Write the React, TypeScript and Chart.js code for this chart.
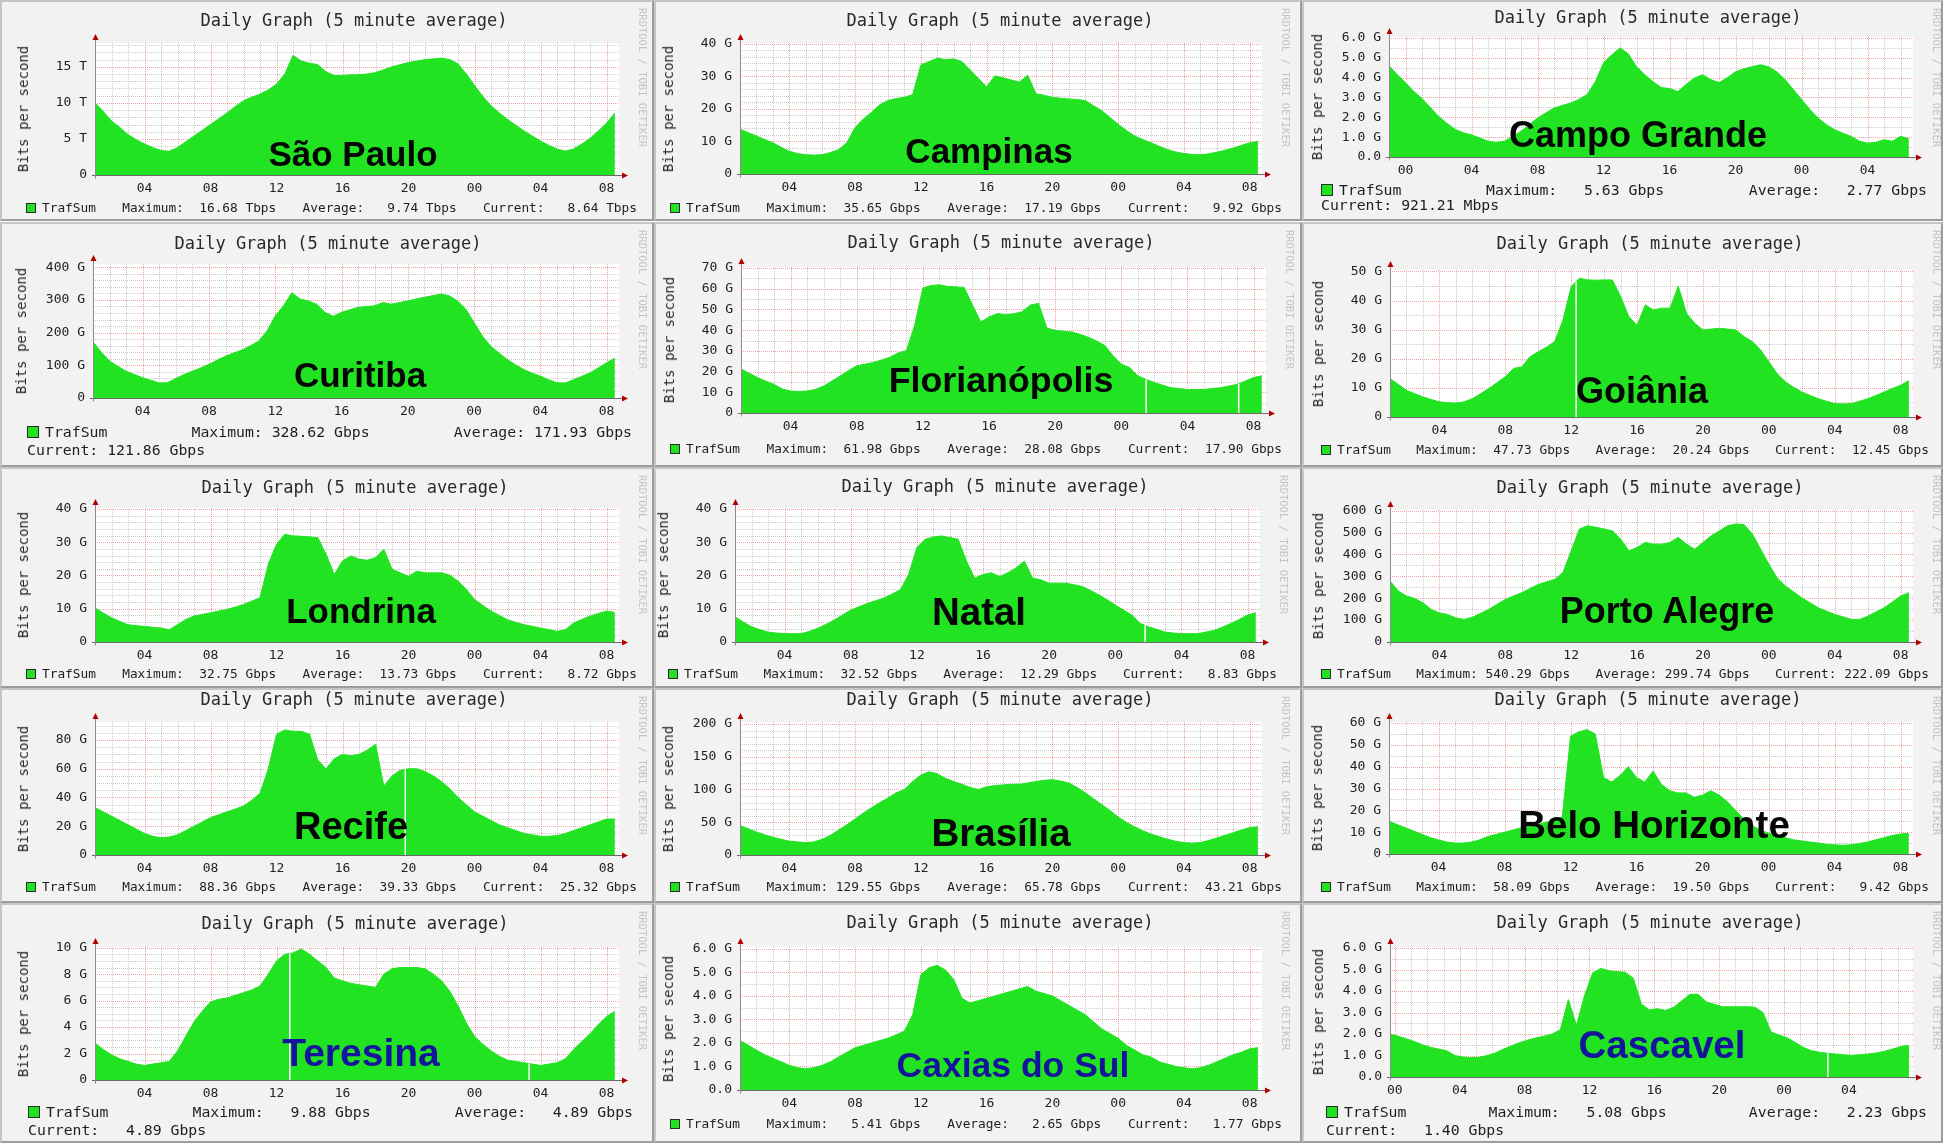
import React, { useEffect, useRef } from 'react';
import { Chart, registerables } from 'chart.js';

Chart.register(...registerables);

// ---------------- DATA ----------------
const cityNames = ['São Paulo', 'Campinas', 'Campo Grande', 'Curitiba', 'Florianópolis', 'Goiânia', 'Londrina', 'Natal', 'Porto Alegre', 'Recife', 'Brasília', 'Belo Horizonte', 'Teresina', 'Caxias do Sul', 'Cascavel'];

// first sample hour (hours of day 1; 24+ = next day) and sampling step (hours)
const startHours = [1, 1, -1, 1, 1, 1, 1, 1, 1, 1, 1, 1, 1, 1, -0.3];
const stepHours = 0.5;

const saoPauloValues = [10.0, 8.8, 7.5, 6.6, 5.6, 4.9, 4.3, 3.8,
  3.4, 3.3, 3.8, 4.6, 5.4, 6.2, 7.0, 7.8,
  8.6, 9.5, 10.3, 10.8, 11.2, 11.8, 12.6, 14.0,
  16.6, 15.8, 15.5, 15.3, 14.3, 13.8, 13.8, 13.9,
  13.9, 14.0, 14.2, 14.6, 15.0, 15.3, 15.6, 15.8,
  16.0, 16.1, 16.2, 16.0, 15.4, 14.0, 12.4, 10.9,
  9.6, 8.6, 7.7, 6.9, 6.1, 5.4, 4.7, 4.1,
  3.6, 3.3, 3.6, 4.3, 5.1, 6.1, 7.2, 8.6];
const campinasValues = [13.8, 12.7, 11.7, 10.6, 9.6, 8.2, 7.0, 6.3,
  5.9, 5.8, 5.9, 6.6, 7.5, 9.6, 14.3, 16.9,
  19.0, 21.3, 22.6, 23.2, 23.6, 24.4, 33.5, 34.6,
  35.6, 35.2, 35.4, 34.6, 32.0, 29.4, 26.8, 30.2,
  29.6, 28.9, 28.3, 30.4, 24.7, 24.2, 23.6, 23.3,
  23.1, 22.9, 22.6, 21.0, 19.5, 17.4, 15.3, 13.4,
  11.7, 10.6, 9.6, 8.5, 7.5, 6.8, 6.3, 6.0,
  5.9, 6.2, 6.7, 7.3, 8.0, 8.8, 9.6, 10.0];
const campoGrandeValues = [4.6, 4.15, 3.75, 3.3, 2.95, 2.5, 2.05, 1.7,
  1.4, 1.22, 1.12, 0.96, 0.8, 0.74, 0.8, 1.04,
  1.3, 1.63, 1.97, 2.22, 2.47, 2.6, 2.72, 2.9,
  3.15, 3.8, 4.75, 5.15, 5.5, 5.2, 4.55, 4.15,
  3.8, 3.5, 3.45, 3.3, 3.65, 3.98, 4.15, 3.9,
  3.75, 4.0, 4.3, 4.45, 4.55, 4.65, 4.55, 4.3,
  3.9, 3.4, 2.9, 2.4, 1.97, 1.63, 1.38, 1.2,
  1.04, 0.8, 0.7, 0.74, 0.87, 0.8, 1.04, 0.92];
const curitibaValues = [172, 140, 113, 97, 82, 72, 62, 54,
  46, 47, 60, 72, 82, 92, 103, 116,
  128, 138, 147, 160, 174, 205, 251, 282,
  322, 303, 297, 287, 262, 250, 262, 270,
  277, 280, 282, 292, 287, 292, 297, 303,
  308, 313, 318, 313, 297, 272, 231, 190,
  159, 138, 118, 102, 87, 76, 67, 56,
  47, 46, 56, 66, 77, 92, 108, 122];
const florianopolisValues = [21.2, 19.2, 17.1, 15.4, 13.8, 11.6, 10.6, 10.4,
  10.6, 11.4, 13.0, 15.4, 17.9, 20.5, 22.8, 23.6,
  24.4, 25.6, 26.9, 29.0, 30.1, 42.3, 60.3, 61.6,
  61.9, 61.1, 60.9, 60.6, 52.1, 43.9, 46.4, 48.0,
  47.6, 47.9, 48.9, 52.1, 52.9, 41.0, 39.9, 39.5,
  39.1, 38.0, 36.6, 34.8, 32.6, 27.7, 23.6, 22.0,
  17.9, 16.2, 14.7, 13.4, 12.2, 11.8, 11.4, 11.3,
  11.4, 11.8, 12.2, 13.0, 13.8, 15.4, 17.1, 18.0];
const goianiaValues = [13.2, 11.2, 9.2, 8.0, 6.9, 6.0, 5.2, 4.9,
  4.8, 5.2, 6.3, 8.0, 9.8, 11.8, 13.8, 16.7,
  17.2, 20.7, 22.4, 24.0, 25.9, 33.3, 44.8, 47.7,
  47.1, 47.0, 47.1, 47.1, 41.4, 34.5, 31.5, 38.5,
  36.8, 37.4, 37.4, 45.0, 35.6, 32.2, 29.9, 30.2,
  30.5, 30.2, 29.9, 27.6, 25.9, 23.0, 19.0, 14.9,
  12.1, 10.2, 8.6, 7.4, 6.3, 5.4, 4.6, 4.5,
  4.6, 5.4, 6.3, 7.4, 8.6, 9.8, 10.9, 12.5];
const londrinaValues = [10.3, 8.7, 7.3, 6.2, 5.2, 4.9, 4.7, 4.4,
  4.2, 3.7, 5.2, 6.8, 7.8, 8.3, 8.8, 9.3,
  9.8, 10.5, 11.3, 12.3, 13.3, 23.4, 29.4, 32.4,
  31.9, 31.8, 31.6, 31.4, 26.4, 20.3, 24.4, 25.9,
  24.9, 24.6, 25.4, 27.9, 21.9, 20.8, 19.8, 21.3,
  20.8, 20.8, 20.8, 20.1, 18.3, 15.8, 12.8, 11.0,
  9.3, 8.0, 6.7, 5.9, 5.2, 4.7, 4.2, 3.7,
  3.2, 3.7, 5.7, 6.8, 7.8, 8.6, 9.3, 8.9];
const natalValues = [7.6, 6.0, 4.6, 3.7, 3.0, 2.7, 2.5, 2.5,
  2.5, 3.2, 4.1, 5.3, 6.6, 8.1, 9.6, 10.6,
  11.6, 12.4, 13.2, 14.4, 15.7, 20.3, 28.4, 30.9,
  31.6, 31.9, 31.4, 30.9, 24.3, 19.2, 20.3, 20.8,
  19.7, 20.8, 22.3, 24.3, 19.2, 18.7, 17.7, 17.7,
  17.7, 17.2, 16.7, 15.5, 14.2, 12.7, 11.1, 9.6,
  8.1, 5.6, 4.6, 3.8, 3.0, 2.7, 2.5, 2.5,
  2.5, 3.0, 3.5, 4.5, 5.6, 6.8, 8.1, 8.8];
const portoAlegreValues = [279, 233, 210, 199, 179, 149, 133, 126,
  110, 103, 113, 131, 149, 172, 194, 210,
  225, 244, 263, 275, 286, 317, 417, 516,
  531, 524, 516, 508, 470, 417, 432, 455,
  447, 447, 455, 478, 447, 424, 455, 485,
  508, 531, 539, 536, 493, 424, 355, 294,
  256, 229, 202, 179, 156, 141, 126, 115,
  103, 103, 118, 137, 156, 183, 210, 225];
const recifeValues = [33, 30, 27, 24, 21, 18, 15, 13,
  12, 12.5, 14, 17, 20, 23, 26, 28,
  30, 32, 34, 38, 43, 60, 84, 87,
  86, 86, 84, 66, 60, 67, 70, 69,
  70, 73, 77, 48, 55, 59, 60, 60,
  58, 55, 51, 46, 40, 35, 30, 27,
  24, 21, 19, 17, 15, 14, 13, 13,
  13.5, 15, 17, 19, 21, 23, 25, 25];
const brasiliaValues = [45, 40, 35, 31, 27, 24, 21, 20,
  19, 20, 24, 30, 38, 46, 55, 64,
  72, 80, 87, 95, 100, 112, 122, 127,
  124, 117, 112, 108, 103, 100, 104, 106,
  107, 108, 108, 110, 112, 114, 115, 113,
  110, 103, 95, 86, 77, 68, 58, 50,
  43, 37, 32, 28, 24, 21, 19, 18,
  19, 22, 26, 30, 34, 38, 42, 43];
const beloHorizonteValues = [15, 13.5, 12, 10.5, 9, 7.5, 6.5, 5.5,
  5, 5, 5.5, 6.5, 8, 9, 10, 11,
  12, 12.5, 13.5, 14.5, 15.5, 17, 54, 56,
  57, 55, 35, 33, 36, 40, 35, 33,
  38, 32, 29, 28, 28, 26, 27, 29,
  27, 24, 20, 16, 13, 11, 9.5, 8.5,
  7.5, 6.5, 6, 5.5, 5, 4.5, 4.2, 4,
  4.2, 4.8, 5.5, 6.5, 7.5, 8.5, 9.2, 9.4];
const teresinaValues = [2.8, 2.3, 1.9, 1.6, 1.4, 1.2, 1.1, 1.2,
  1.3, 1.4, 2.2, 3.3, 4.4, 5.2, 5.9, 6.1,
  6.2, 6.4, 6.6, 6.8, 7.1, 8.0, 9.0, 9.5,
  9.6, 9.9, 9.5, 9.0, 8.5, 7.7, 7.5, 7.3,
  7.2, 7.1, 7.0, 8.0, 8.4, 8.5, 8.5, 8.5,
  8.4, 8.0, 7.5, 6.7, 5.6, 4.3, 3.3, 2.7,
  2.2, 1.8, 1.5, 1.4, 1.3, 1.2, 1.1, 1.2,
  1.3, 1.6, 2.3, 2.9, 3.5, 4.2, 4.8, 5.2];
const caxiasValues = [2.1, 1.9, 1.7, 1.5, 1.35, 1.2, 1.05, 0.95,
  0.9, 0.95, 1.05, 1.2, 1.4, 1.6, 1.8, 1.9,
  2.0, 2.1, 2.2, 2.35, 2.5, 3.2, 4.9, 5.2,
  5.3, 5.1, 4.7, 3.9, 3.7, 3.8, 3.9, 4.0,
  4.1, 4.2, 4.3, 4.4, 4.2, 4.1, 4.0, 3.8,
  3.6, 3.4, 3.2, 2.9, 2.6, 2.4, 2.2, 1.9,
  1.7, 1.5, 1.4, 1.2, 1.1, 1.0, 0.95, 0.9,
  0.95, 1.05, 1.2, 1.35, 1.5, 1.6, 1.75, 1.8];
const cascavelValues = [2.0, 1.9, 1.78, 1.65, 1.5, 1.38, 1.3, 1.22,
  1.0, 0.93, 0.9, 0.92, 1.0, 1.12, 1.3, 1.45,
  1.6, 1.72, 1.82, 1.9, 2.0, 2.2, 3.6, 2.4,
  3.8, 4.85, 5.05, 4.95, 4.9, 4.88, 4.6, 3.4,
  3.12, 3.18, 3.1, 3.25, 3.55, 3.85, 3.85, 3.5,
  3.38, 3.27, 3.27, 3.27, 3.27, 3.25, 3.0, 2.1,
  1.95, 1.82, 1.6, 1.37, 1.22, 1.15, 1.1, 1.07,
  1.03, 1.01, 1.04, 1.07, 1.12, 1.2, 1.3, 1.42,
  1.48];

const seriesValues = [saoPauloValues, campinasValues, campoGrandeValues, curitibaValues, florianopolisValues, goianiaValues,
  londrinaValues, natalValues, portoAlegreValues, recifeValues, brasiliaValues, beloHorizonteValues,
  teresinaValues, caxiasValues, cascavelValues];

// hours where a sample is missing (thin white line)
const gapHours = [[], [], [], [], [25.5, 31.1], [12.3], [], [25.8], [], [19.8], [], [], [12.8, 27.3], [], [26.7]];

const maximumValues = [16.68, 35.65, 5.63, 328.62, 61.98, 47.73, 32.75, 32.52, 540.29, 88.36, 129.55, 58.09, 9.88, 5.41, 5.08];
const averageValues = [9.74, 17.19, 2.77, 171.93, 28.08, 20.24, 13.73, 12.29, 299.74, 39.33, 65.78, 19.50, 4.89, 2.65, 2.23];
const currentValues = [8.64, 9.92, 921.21, 121.86, 17.90, 12.45, 8.72, 8.83, 222.09, 25.32, 43.21, 9.42, 4.89, 1.77, 1.40];
const statUnits = ['Tbps', 'Gbps', 'Gbps', 'Gbps', 'Gbps', 'Gbps', 'Gbps', 'Gbps', 'Gbps', 'Gbps', 'Gbps', 'Gbps', 'Gbps', 'Gbps', 'Gbps'];
const currentUnits = ['Tbps', 'Gbps', 'Mbps', 'Gbps', 'Gbps', 'Gbps', 'Gbps', 'Gbps', 'Gbps', 'Gbps', 'Gbps', 'Gbps', 'Gbps', 'Gbps', 'Gbps'];

const gLabels10to40 = ['0', '10 G', '20 G', '30 G', '40 G'];
const gLabelsDecimal6 = ['0.0', '1.0 G', '2.0 G', '3.0 G', '4.0 G', '5.0 G', '6.0 G'];
const yTickLabels = [
  ['0', '5 T', '10 T', '15 T'],
  gLabels10to40,
  gLabelsDecimal6,
  ['0', '100 G', '200 G', '300 G', '400 G'],
  ['0', '10 G', '20 G', '30 G', '40 G', '50 G', '60 G', '70 G'],
  ['0', '10 G', '20 G', '30 G', '40 G', '50 G'],
  gLabels10to40,
  gLabels10to40,
  ['0', '100 G', '200 G', '300 G', '400 G', '500 G', '600 G'],
  ['0', '20 G', '40 G', '60 G', '80 G'],
  ['0', '50 G', '100 G', '150 G', '200 G'],
  ['0', '10 G', '20 G', '30 G', '40 G', '50 G', '60 G'],
  ['0', '2 G', '4 G', '6 G', '8 G', '10 G'],
  gLabelsDecimal6,
  gLabelsDecimal6,
];
const yMajorSteps = [5, 10, 1, 100, 10, 10, 10, 10, 100, 20, 50, 10, 2, 1, 1];
const yMinorSteps = [1, 2, 0.5, 20, 5, 5, 2, 2, 50, 5, 10, 5, 0.5, 0.5, 0.5];
const yMaxValues = [18.3, 40.3, 6.05, 410, 70.5, 50.5, 40.3, 40.3, 603, 92.5, 203, 60.5, 10.05, 6.08, 6.05];

// ---------------- LAYOUT ----------------
type Layout = { box: number[]; plot: number[]; title: number[]; legend: number[]; city: number[]; cityFs: number; blue?: boolean; span?: number[] };
const layouts: Layout[] = [
  { box: [0, 0, 654, 221], plot: [95, 43, 619, 175], title: [354, 20], legend: [208], city: [353, 166], cityFs: 35 },
  { box: [654, 0, 648, 221], plot: [740, 43, 1262, 174], title: [1000, 20], legend: [208], city: [989, 163], cityFs: 35 },
  { box: [1302, 0, 641, 221], plot: [1389, 37, 1913, 157], title: [1648, 17], legend: [190, 205], city: [1638, 147], cityFs: 36, span: [1321, 1927] },
  { box: [0, 222, 654, 245], plot: [93, 264, 619, 398], title: [328, 243], legend: [432, 450], city: [360, 387], cityFs: 35, span: [27, 632] },
  { box: [654, 222, 648, 245], plot: [741, 267, 1266, 413], title: [1001, 242], legend: [449], city: [1001, 393], cityFs: 35.8 },
  { box: [1302, 222, 641, 245], plot: [1390, 270, 1913, 417], title: [1650, 243], legend: [450], city: [1642, 403], cityFs: 36 },
  { box: [0, 467, 654, 221], plot: [95, 508, 619, 642], title: [355, 487], legend: [674], city: [361, 623], cityFs: 35 },
  { box: [654, 467, 648, 221], plot: [735, 508, 1260, 642], title: [995, 486], legend: [674], city: [979, 625], cityFs: 38.5, span: [668, 1277] },
  { box: [1302, 467, 641, 221], plot: [1390, 510, 1913, 642], title: [1650, 487], legend: [674], city: [1667, 623], cityFs: 36 },
  { box: [0, 688, 654, 215], plot: [95, 722, 619, 855], title: [354, 699], legend: [887], city: [351, 840], cityFs: 38 },
  { box: [654, 688, 648, 215], plot: [740, 722, 1262, 855], title: [1000, 699], legend: [887], city: [1001, 846], cityFs: 38.5 },
  { box: [1302, 688, 641, 215], plot: [1389, 722, 1913, 854], title: [1648, 699], legend: [887], city: [1654, 838], cityFs: 38.5 },
  { box: [0, 903, 654, 240], plot: [95, 947, 619, 1080], title: [355, 923], legend: [1112, 1130], city: [361, 1067], cityFs: 39, blue: true, span: [28, 633] },
  { box: [654, 903, 648, 240], plot: [740, 947, 1262, 1090], title: [1000, 922], legend: [1124], city: [1013, 1078], cityFs: 35.5, blue: true },
  { box: [1302, 903, 641, 240], plot: [1390, 947, 1913, 1077], title: [1650, 922], legend: [1112, 1130], city: [1662, 1058], cityFs: 38.5, blue: true, span: [1326, 1927] },
];
const legendSpans = [[26, 637], [670, 1282], [1321, 1929]];

const GREEN = '#22e322';
const MONO = '"DejaVu Sans Mono", monospace';
const MINOR_GRID = 'rgba(150,150,150,0.5)';
const MAJOR_GRID = 'rgba(235,70,70,0.5)';

function RrdChart({ i }: { i: number }) {
  const ref = useRef<HTMLCanvasElement | null>(null);
  const L = layouts[i];
  const [bx, by, bw, bh] = L.box;
  useEffect(() => {
    const canvas = ref.current;
    if (!canvas) return;
    const [pl, pt, pr, pb] = L.plot;
    const vals = seriesValues[i];
    const t0 = startHours[i];
    const pts = vals.map((v, k) => ({ x: t0 + k * stepHours, y: v }));
    const xMin = t0;
    const xMax = t0 + (vals.length - 1) * stepHours + 0.25;
    const yMax = yMaxValues[i];
    const major = yMajorSteps[i];
    const minor = yMinorSteps[i];
    const labels = yTickLabels[i];
    const hourTicks: number[] = [];
    for (let h = Math.ceil(xMin); h <= Math.floor(xMax); h++) hourTicks.push(h);
    const yTicks: number[] = [];
    for (let k = 0; k * minor <= yMax + 1e-9; k++) yTicks.push(Math.round(k * minor * 1e6) / 1e6);
    const isMajorY = (v: number) => Math.abs(v / major - Math.round(v / major)) < 1e-6;
    const hh = (v: number) => String(((v % 24) + 24) % 24).padStart(2, '0');

    const decor = {
      id: 'rrdDecor',
      beforeDatasetsDraw(chart: any) {
        const { ctx, chartArea: a } = chart;
        const xs = chart.scales.x;
        const ys = chart.scales.y;
        ctx.save();
        ctx.fillStyle = '#ffffff';
        ctx.fillRect(a.left, a.top, a.right - a.left, a.bottom - a.top);
        ctx.lineWidth = 1;
        ctx.setLineDash([1, 1]);
        const vline = (v: number, col: string) => {
          const px = Math.round(xs.getPixelForValue(v)) + 0.5;
          ctx.strokeStyle = col;
          ctx.beginPath(); ctx.moveTo(px, a.top); ctx.lineTo(px, a.bottom); ctx.stroke();
        };
        const hline = (v: number, col: string) => {
          const py = Math.round(ys.getPixelForValue(v)) + 0.5;
          ctx.strokeStyle = col;
          ctx.beginPath(); ctx.moveTo(a.left, py); ctx.lineTo(a.right, py); ctx.stroke();
        };
        hourTicks.filter((h) => h % 4 !== 0).forEach((h) => vline(h, MINOR_GRID));
        yTicks.filter((v) => !isMajorY(v)).forEach((v) => hline(v, MINOR_GRID));
        hourTicks.filter((h) => h % 4 === 0).forEach((h) => vline(h, MAJOR_GRID));
        yTicks.filter((v) => isMajorY(v) && v > 0).forEach((v) => hline(v, MAJOR_GRID));
        ctx.restore();
      },
      afterDatasetsDraw(chart: any) {
        const { ctx, chartArea: a } = chart;
        const xs = chart.scales.x;
        const ys = chart.scales.y;
        ctx.save();
        ctx.setLineDash([]);
        gapHours[i].forEach((g) => {
          const f = (g - t0) / stepHours;
          const k = Math.floor(f);
          const r = f - k;
          const v = vals[k] * (1 - r) + vals[Math.min(k + 1, vals.length - 1)] * r;
          const px = xs.getPixelForValue(g);
          ctx.strokeStyle = '#ffffff';
          ctx.lineWidth = 1.5;
          ctx.beginPath(); ctx.moveTo(px, ys.getPixelForValue(0)); ctx.lineTo(px, ys.getPixelForValue(v)); ctx.stroke();
        });
        const zy = Math.round(ys.getPixelForValue(0)) + 0.5;
        const lx = Math.round(a.left) + 0.5;
        ctx.lineWidth = 1;
        ctx.strokeStyle = '#6a6a6a';
        ctx.beginPath(); ctx.moveTo(a.left - 3, zy); ctx.lineTo(a.right + 5, zy); ctx.stroke();
        ctx.strokeStyle = '#8a8a8a';
        ctx.beginPath(); ctx.moveTo(lx, zy + 3); ctx.lineTo(lx, a.top - 5); ctx.stroke();
        ctx.fillStyle = '#b00000';
        ctx.beginPath(); ctx.moveTo(a.right + 9, zy); ctx.lineTo(a.right + 3, zy - 3); ctx.lineTo(a.right + 3, zy + 3); ctx.closePath(); ctx.fill();
        ctx.beginPath(); ctx.moveTo(lx, a.top - 9); ctx.lineTo(lx - 3, a.top - 3); ctx.lineTo(lx + 3, a.top - 3); ctx.closePath(); ctx.fill();
        ctx.restore();
      },
    };

    const chart = new Chart(canvas, {
      type: 'line',
      data: {
        datasets: [{
          data: pts,
          fill: 'origin',
          backgroundColor: GREEN,
          borderColor: GREEN,
          borderWidth: 1,
          pointRadius: 0,
          tension: 0,
        }],
      },
      options: {
        animation: false,
        responsive: false,
        maintainAspectRatio: false,
        events: [],
        layout: { padding: { left: 0, top: pt - by, right: bx + bw - pr, bottom: 0 } },
        plugins: { legend: { display: false }, tooltip: { enabled: false }, title: { display: false } },
        scales: {
          x: {
            type: 'linear',
            min: xMin,
            max: xMax,
            afterFit: (s: any) => { s.height = by + bh - pb; },
            afterBuildTicks: (s: any) => { s.ticks = hourTicks.map((v) => ({ value: v })); },
            ticks: {
              autoSkip: false,
              maxRotation: 0,
              padding: 6,
              color: '#222',
              font: { family: 'DejaVu Sans Mono', size: 13 },
              callback: (v: any) => (Number(v) % 4 === 0 ? hh(Number(v)) : ''),
            },
            grid: { display: false, drawTicks: false },
            border: { display: false },
          },
          y: {
            type: 'linear',
            min: 0,
            max: yMax,
            afterFit: (s: any) => { s.width = pl - bx; },
            afterBuildTicks: (s: any) => { s.ticks = yTicks.map((v) => ({ value: v })); },
            ticks: {
              autoSkip: false,
              padding: 8,
              color: '#222',
              font: { family: 'DejaVu Sans Mono', size: 13 },
              callback: (v: any) => (isMajorY(Number(v)) ? (labels[Math.round(Number(v) / major)] ?? '') : ''),
            },
            grid: { display: false, drawTicks: false },
            border: { display: false },
          },
        },
      },
      plugins: [decor],
    } as any);
    return () => chart.destroy();
  }, [i]);
  return <canvas ref={ref} width={bw} height={bh} style={{ position: 'absolute', left: bx, top: by, width: bw, height: bh }} />;
}

function Legend({ i }: { i: number }) {
  const L = layouts[i];
  const [lx0, lx1] = L.span ?? legendSpans[i % 3];
  const twoLine = L.legend.length > 1;
  const fs = twoLine ? 14.8 : 12.8;
  const fmt = (v: number) => v.toFixed(2).padStart(7, ' ');
  const maxT = `Maximum:${fmt(maximumValues[i])} ${statUnits[i]}`;
  const avgT = `Average:${fmt(averageValues[i])} ${statUnits[i]}`;
  const curT = `Current:${fmt(currentValues[i])} ${currentUnits[i]}`;
  const row = (y: number, justify: string): React.CSSProperties => ({
    position: 'absolute', left: lx0, width: lx1 - lx0, top: y - 9, height: 18,
    display: 'flex', justifyContent: justify, alignItems: 'center',
    font: `${fs}px ${MONO}`, lineHeight: '18px', color: '#1e1e1e', whiteSpace: 'pre',
  });
  const sq = twoLine ? 12 : 10;
  const traf = (
    <span style={{ display: 'flex', alignItems: 'center' }}>
      <span style={{ display: 'inline-block', width: sq, height: sq, background: GREEN, border: '1px solid #2a2a2a', boxSizing: 'border-box', marginRight: 6 }} />
      TrafSum
    </span>
  );
  if (!twoLine) {
    return (
      <div style={row(L.legend[0], 'space-between')}>
        {traf}<span>{maxT}</span><span>{avgT}</span><span>{curT}</span>
      </div>
    );
  }
  return (
    <>
      <div style={row(L.legend[0], 'space-between')}>{traf}<span>{maxT}</span><span>{avgT}</span></div>
      <div style={row(L.legend[1], 'flex-start')}><span>{curT}</span></div>
    </>
  );
}

function Panel({ i }: { i: number }) {
  const L = layouts[i];
  const [bx, by, bw, bh] = L.box;
  const [pl, pt, pr, pb] = L.plot;
  const cityFs = L.cityFs;
  return (
    <>
      <div style={{ position: 'absolute', left: bx, top: by, width: bw, height: bh, boxSizing: 'border-box', background: '#f2f2f2', borderStyle: 'solid', borderWidth: 2, borderColor: '#c6c6c6 #9c9c9c #9c9c9c #c6c6c6' }} />
      <RrdChart i={i} />
      <div style={{ position: 'absolute', left: L.title[0], top: L.title[1], transform: 'translate(-50%, -50%)', font: `17px ${MONO}`, lineHeight: '20px', color: '#2a2a2a', whiteSpace: 'pre' }}>
        Daily Graph (5 minute average)
      </div>
      <div style={{ position: 'absolute', left: pl - 72, top: (pt + pb) / 2, transform: 'translate(-50%, -50%) rotate(-90deg)', font: `14px ${MONO}`, lineHeight: '16px', color: '#2a2a2a', whiteSpace: 'pre' }}>
        Bits per second
      </div>
      <div style={{ position: 'absolute', left: pr + 30, top: by + 8, transformOrigin: '0 0', transform: 'rotate(90deg)', font: `10.5px ${MONO}`, lineHeight: '12px', color: '#c4c4c4', whiteSpace: 'pre' }}>
        RRDTOOL / TOBI OETIKER
      </div>
      <Legend i={i} />
      <div style={{ position: 'absolute', left: L.city[0], top: L.city[1] - 0.92 * cityFs, transform: 'translateX(-50%)', font: `bold ${cityFs}px "Liberation Sans", Arial, sans-serif`, lineHeight: 'normal', color: L.blue ? '#14149c' : '#050505', whiteSpace: 'nowrap' }}>
        {cityNames[i]}
      </div>
    </>
  );
}

export default function App() {
  useEffect(() => {
    document.body.style.margin = '0';
  }, []);
  return (
    <div style={{ position: 'absolute', left: 0, top: 0, width: 1943, height: 1143, overflow: 'hidden', background: '#ffffff' }}>
      {layouts.map((_, i) => <Panel key={i} i={i} />)}
    </div>
  );
}
